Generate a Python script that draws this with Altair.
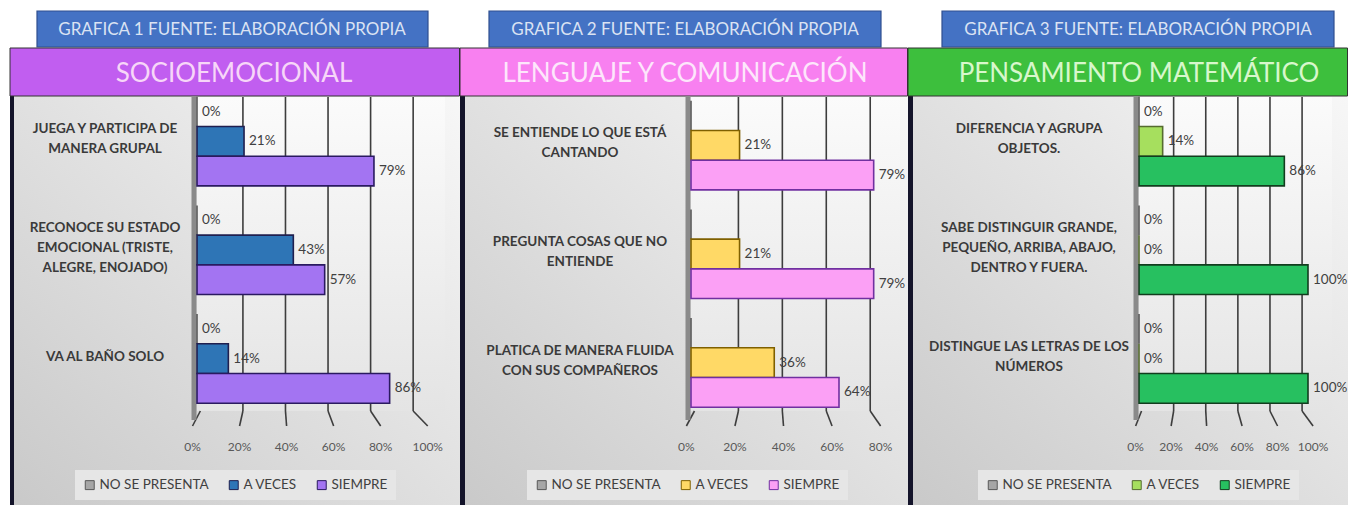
import altair as alt
import pandas as pd

FONT = "Lato"

series = ["NO SE PRESENTA", "A VECES", "SIEMPRE"]

# ---- Panel 1 data
p1_header = "GRAFICA 1 FUENTE: ELABORACIÓN PROPIA"
p1_title = "SOCIOEMOCIONAL"
p1_categories = ["JUEGA Y PARTICIPA DE\nMANERA GRUPAL",
                 "RECONOCE SU ESTADO\nEMOCIONAL (TRISTE,\nALEGRE, ENOJADO)",
                 "VA AL BAÑO SOLO"]
p1_no_se_presenta = [0.0, 0.0, 0.0]
p1_a_veces = [0.21, 0.43, 0.14]
p1_siempre = [0.79, 0.57, 0.86]
p1_ticks = [0.0, 0.2, 0.4, 0.6, 0.8, 1.0]
p1_labelled = ["NO SE PRESENTA", "A VECES", "SIEMPRE"]

# ---- Panel 2 data
p2_header = "GRAFICA 2 FUENTE: ELABORACIÓN PROPIA"
p2_title = "LENGUAJE Y COMUNICACIÓN"
p2_categories = ["SE ENTIENDE LO QUE ESTÁ\nCANTANDO",
                 "PREGUNTA COSAS QUE NO\nENTIENDE",
                 "PLATICA DE MANERA FLUIDA\nCON SUS COMPAÑEROS"]
p2_no_se_presenta = [0.0, 0.0, 0.0]
p2_a_veces = [0.21, 0.21, 0.36]
p2_siempre = [0.79, 0.79, 0.64]
p2_ticks = [0.0, 0.2, 0.4, 0.6, 0.8]
p2_labelled = ["A VECES", "SIEMPRE"]

# ---- Panel 3 data
p3_header = "GRAFICA 3 FUENTE: ELABORACIÓN PROPIA"
p3_title = "PENSAMIENTO MATEMÁTICO"
p3_categories = ["DIFERENCIA Y AGRUPA\nOBJETOS.",
                 "SABE DISTINGUIR GRANDE,\nPEQUEÑO, ARRIBA, ABAJO,\nDENTRO Y FUERA.",
                 "DISTINGUE LAS LETRAS DE LOS\nNÚMEROS"]
p3_no_se_presenta = [0.0, 0.0, 0.0]
p3_a_veces = [0.14, 0.0, 0.0]
p3_siempre = [0.86, 1.0, 1.0]
p3_ticks = [0.0, 0.2, 0.4, 0.6, 0.8, 1.0]
p3_labelled = ["NO SE PRESENTA", "A VECES", "SIEMPRE"]

# ---- Styles / layout (not data)
S1 = dict(width=452, header_x=(29, 420), title_x=(2, 451.5), border_x=(2, 6),
          xmax=1.0, x_range=[189, 413], y_range=[79, 405], label_cx=97,
          title_cx=226, header_cx=224, legend_x=67,
          title_bg="#c15ef0", title_fg="#f7d6f8",
          fills=["#a6a6a6", "#2e75b6", "#a374f2"],
          strokes=["#595959", "#1f1f4f", "#2a1a60"])
S2 = dict(width=448, header_x=(29, 421), title_x=(0, 447.5), border_x=(0, 5),
          xmax=0.8, x_range=[231, 416], y_range=[83, 409], label_cx=120,
          title_cx=225, header_cx=225, legend_x=67,
          title_bg="#f880f0", title_fg="#fde6fb",
          fills=["#a6a6a6", "#ffd966", "#fba0f5"],
          strokes=["#595959", "#7f6000", "#7030a0"])
S3 = dict(width=440, header_x=(34, 426), title_x=(0, 439.5), border_x=(0, 5),
          xmax=1.0, x_range=[231, 400], y_range=[79, 405], label_cx=121,
          title_cx=231, header_cx=230, legend_x=70,
          title_bg="#3dbf3d", title_fg="#d8f7cc",
          fills=["#a6a6a6", "#a6df5e", "#27c060"],
          strokes=["#595959", "#556b2f", "#123d1e"])

H = 497
LH = 20
GRID_EXPR = "datum.v*0.95+0.015"
FRONT_EXPR = "datum.v*1.05-0.02"


def one():
    return pd.DataFrame({"k": [0]})


def panel(header, title, categories, no, av, si, ticks, labelled, st):
    rows = []
    for i, c in enumerate(categories):
        for s, vals in zip(series, [no, av, si]):
            rows.append({"category": c, "series": s, "value": vals[i]})
    df = pd.DataFrame(rows)
    cats = pd.DataFrame({"category": categories})
    tk = pd.DataFrame({"v": ticks})

    xs = alt.Scale(domain=[0, st["xmax"]], range=st["x_range"], nice=False, zero=False)
    ys = alt.Scale(domain=categories, range=st["y_range"], paddingInner=0.18, paddingOuter=0.09)
    W = st["width"]

    bg = alt.Chart(one()).mark_rect(
        color=alt.LinearGradient(gradient="linear", x1=1, y1=0, x2=0, y2=1,
                                 stops=[alt.GradientStop(color="#f7f7f7", offset=0),
                                        alt.GradientStop(color="#c9c9c9", offset=1)])
    ).encode(x=alt.value(st["title_x"][0]), x2=alt.value(W), y=alt.value(88), y2=alt.value(H))

    border = alt.Chart(one()).mark_rect(color="#14142a").encode(
        x=alt.value(st["border_x"][0]), x2=alt.value(st["border_x"][1]),
        y=alt.value(88), y2=alt.value(H))

    head = alt.Chart(one()).mark_rect(color="#4472c4", stroke="#2f4f8f", strokeWidth=1.2).encode(
        x=alt.value(st["header_x"][0]), x2=alt.value(st["header_x"][1]),
        y=alt.value(3), y2=alt.value(39))
    head_t = alt.Chart(one()).mark_text(text=header, font=FONT, fontSize=17, color="#dbe3f3",
                                        align="center", baseline="middle").encode(
        x=alt.value(st["header_cx"]), y=alt.value(22))

    tbar = alt.Chart(one()).mark_rect(color=st["title_bg"], stroke="#333333", strokeWidth=1).encode(
        x=alt.value(st["title_x"][0]), x2=alt.value(st["title_x"][1]),
        y=alt.value(40), y2=alt.value(88))
    tbar_t = alt.Chart(one()).mark_text(text=title, font=FONT, fontSize=26, color=st["title_fg"],
                                        align="center", baseline="middle").encode(
        x=alt.value(st["title_cx"]), y=alt.value(66))

    wall = alt.Chart(one()).mark_rect(
        x2Offset=24,
        color=alt.LinearGradient(gradient="linear", x1=0, y1=0, x2=0, y2=1,
                                 stops=[alt.GradientStop(color="#fbfbfb", offset=0),
                                        alt.GradientStop(color="#e4e4e4", offset=1)])
    ).encode(x=alt.X("a:Q", scale=xs, axis=None), x2=alt.X2("b:Q"),
             y=alt.value(89), y2=alt.value(403)).transform_calculate(a="0", b=str(st["xmax"]))

    grid = alt.Chart(tk).transform_filter("datum.v > 0").transform_calculate(
        back=GRID_EXPR).mark_rule(color="#3d3d3d", strokeWidth=1.6).encode(
        x=alt.X("back:Q", scale=xs, axis=None), y=alt.value(89), y2=alt.value(403))

    floor = alt.Chart(tk).transform_calculate(back=GRID_EXPR, front=FRONT_EXPR).mark_rule(
        color="#3d3d3d", strokeWidth=1.6).encode(
        x=alt.X("back:Q", scale=xs, axis=None), x2=alt.X2("front:Q"),
        y=alt.value(403), y2=alt.value(418))

    ywall = alt.Chart(one()).transform_calculate(a="0").mark_rule(
        color="#8a8a8a", strokeWidth=5, xOffset=-3).encode(
        x=alt.X("a:Q", scale=xs, axis=None), y=alt.value(89), y2=alt.value(412))

    bars = alt.Chart(df).mark_bar(strokeWidth=1.6).encode(
        y=alt.Y("category:N", scale=ys, axis=None),
        yOffset=alt.YOffset("series:N", sort=series,
                            scale=alt.Scale(domain=series, paddingInner=0, paddingOuter=0)),
        x=alt.X("value:Q", scale=xs, axis=None),
        color=alt.Color("series:N", scale=alt.Scale(domain=series, range=st["fills"]),
                        legend=alt.Legend(orient="none", legendX=st["legend_x"], legendY=462,
                                          direction="horizontal", title=None,
                                          symbolType="square", symbolSize=80,
                                          symbolStrokeColor="#404040", symbolStrokeWidth=1,
                                          labelFont=FONT, labelFontSize=13.5, labelColor="#404040",
                                          labelOffset=3, columnPadding=18,
                                          fillColor="#e6e6e6", padding=8)),
        stroke=alt.Stroke("series:N", scale=alt.Scale(domain=series, range=st["strokes"]),
                          legend=None),
    )

    labels = alt.Chart(df).transform_filter(
        alt.FieldOneOfPredicate(field="series", oneOf=labelled)
    ).mark_text(align="left", baseline="middle", dx=5, font=FONT, fontSize=13.5,
                color="#404040").encode(
        y=alt.Y("category:N", scale=ys, axis=None),
        yOffset=alt.YOffset("series:N", sort=series,
                            scale=alt.Scale(domain=series, paddingInner=0, paddingOuter=0)),
        x=alt.X("value:Q", scale=xs, axis=None),
        text=alt.Text("value:Q", format=".0%"),
    )

    # category labels: one layer per line count so the block is centred on its band
    cat_layers = []
    for n in (1, 2, 3):
        cat_layers.append(
            alt.Chart(cats).transform_calculate(
                nl="split(datum.category, '\\n').length"
            ).transform_filter(f"datum.nl == {n}").mark_text(
                align="center", baseline="middle", lineBreak="\n", lineHeight=LH,
                dy=-(n - 1) * LH / 2 - 2,
                font=FONT, fontSize=13.5, fontWeight="bold", color="#3a3a3a").encode(
                y=alt.Y("category:N", scale=ys, axis=None),
                x=alt.value(st["label_cx"]),
                text="category:N",
            )
        )

    tickl = alt.Chart(tk).transform_calculate(front=FRONT_EXPR).mark_text(
        align="center", baseline="middle", font=FONT, fontSize=12, color="#595959").encode(
        x=alt.X("front:Q", scale=xs, axis=None), y=alt.value(439),
        text=alt.Text("v:Q", format=".0%"))

    return alt.layer(bg, border, head, head_t, tbar, tbar_t, wall, grid, floor, ywall,
                     bars, labels, *cat_layers, tickl).properties(width=W, height=H)


c1 = panel(p1_header, p1_title, p1_categories, p1_no_se_presenta, p1_a_veces, p1_siempre,
           p1_ticks, p1_labelled, S1)
c2 = panel(p2_header, p2_title, p2_categories, p2_no_se_presenta, p2_a_veces, p2_siempre,
           p2_ticks, p2_labelled, S2)
c3 = panel(p3_header, p3_title, p3_categories, p3_no_se_presenta, p3_a_veces, p3_siempre,
           p3_ticks, p3_labelled, S3)

chart = alt.hconcat(c1, c2, c3, spacing=0, bounds="flush").resolve_scale(
    x="independent", y="independent", color="independent", stroke="independent",
    yOffset="independent"
).resolve_legend(color="independent").properties(padding=0).configure_view(stroke=None)

chart.save("out.html", embed_options={"renderer": "svg", "actions": False})
